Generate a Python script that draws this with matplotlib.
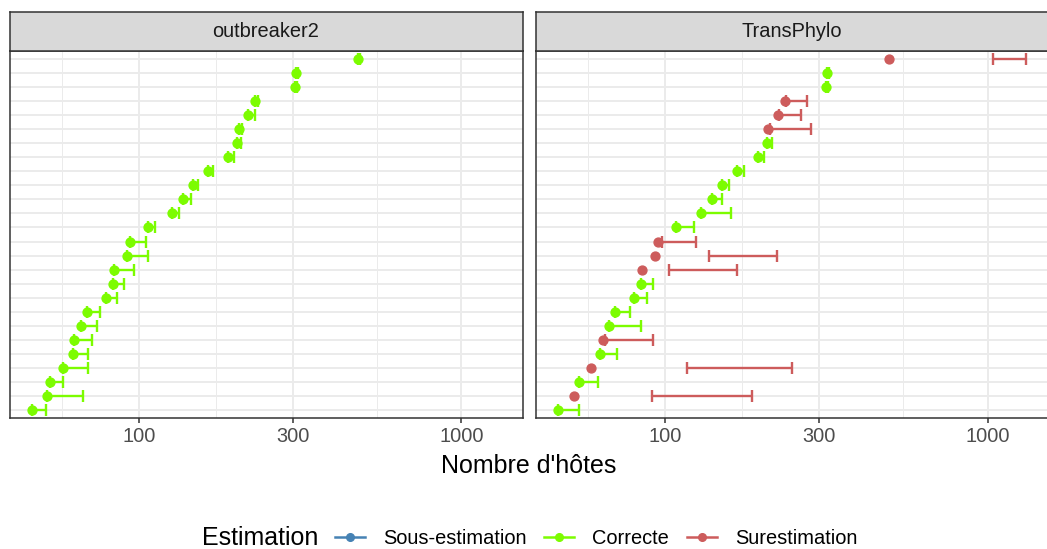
import numpy as np
import matplotlib
matplotlib.use("Agg")
import matplotlib.pyplot as plt
from matplotlib.lines import Line2D

plt.rcParams["font.family"] = ["Liberation Sans", "DejaVu Sans"]

# rows listed from top to bottom
o2_point = [478, 307, 304, 229, 218, 204, 201, 189, 164, 147, 137, 127, 107,
            94, 92, 84, 83, 79, 69, 66, 63, 62.5, 58, 53, 52, 46.6]
o2_low = [478, 307, 304, 229, 218, 204, 201, 189, 164, 147, 137, 127, 107,
          94, 92, 84, 83, 79, 69, 66, 63, 62.5, 58, 53, 52, 46.6]
o2_high = [484, 311, 309, 234, 229, 209, 207, 197, 170, 153, 145, 133, 112.5,
           105, 107, 96.5, 90, 85.5, 76, 74, 71.5, 69.5, 69.5, 58, 67, 51.5]
o2_class = ["Correcte"] * 26

tp_point = [494, 318, 315, 235, 224, 208, 207, 194, 167, 150, 140, 129, 108,
            95, 93, 85, 84, 80, 70, 67, 64, 63, 59, 54, 52, 46.6]
tp_low = [1039, 318, 315, 237, 226, 212, 207, 194, 167, 150, 140, 129, 108,
          98, 137, 103, 84, 80, 70, 67, 65, 63, 117, 54, 91, 46.6]
tp_high = [1314, 322, 320, 275, 264, 284, 215, 203, 176, 158, 150, 160, 123,
           125, 222, 167, 92, 88, 78, 84, 92, 71, 247, 62, 186, 54]
tp_class = ["Surestimation", "Correcte", "Correcte", "Surestimation",
            "Surestimation", "Surestimation", "Correcte", "Correcte",
            "Correcte", "Correcte", "Correcte", "Correcte", "Correcte",
            "Surestimation", "Surestimation", "Surestimation", "Correcte",
            "Correcte", "Correcte", "Correcte", "Surestimation", "Correcte",
            "Surestimation", "Correcte", "Surestimation", "Correcte"]

panels = ["outbreaker2", "TransPhylo"]
classes = ["Sous-estimation", "Correcte", "Surestimation"]
colors = {"Sous-estimation": "#4682B4", "Correcte": "#7CFC00",
          "Surestimation": "#CD5C5C"}
x_breaks = [100, 300, 1000]
x_minor = [57.7, 173.2, 547.7]

W, H = 1047, 549
fig = plt.figure(figsize=(W / 100, H / 100), dpi=100)


def draw_panel(left_px, name, point, low, high, cls):
    ax = fig.add_axes([left_px / W, 1 - 418 / H, 513 / W, 367 / H])
    n = len(point)
    rows = np.arange(1, n + 1)
    point = np.array(point, dtype=float)
    low = np.array(low, dtype=float)
    high = np.array(high, dtype=float)
    cls = np.array(cls)

    for c in classes:
        m = cls == c
        if not m.any():
            continue
        ax.plot(point[m], rows[m], "o", color=colors[c], markersize=6.4,
                zorder=3)
        ax.errorbar(low[m], rows[m], xerr=[np.zeros(m.sum()), high[m] - low[m]],
                    fmt="none", ecolor=colors[c], elinewidth=1.7,
                    capsize=4.3, capthick=1.7, zorder=4)

    ax.set_xscale("log")
    ax.set_xlim(39.7, 1546)
    ax.set_ylim(n + 0.6, 0.4)
    ax.set_xticks(x_breaks)
    ax.set_xticklabels([str(b) for b in x_breaks])
    ax.set_xticks(x_minor, minor=True)
    ax.set_yticks(rows)
    ax.set_yticklabels([])
    ax.tick_params(axis="y", length=0)
    ax.tick_params(axis="x", which="major", length=3.5, width=1.1,
                   color="#333333", labelsize=14.4, labelcolor="#4D4D4D", pad=3)
    ax.tick_params(axis="x", which="minor", length=0)
    ax.grid(True, which="major", color="#EBEBEB", linewidth=1.4)
    ax.grid(True, which="minor", axis="x", color="#EBEBEB", linewidth=0.7)
    ax.set_axisbelow(True)
    for s in ax.spines.values():
        s.set_color("#333333")
        s.set_linewidth(1.1)

    strip = fig.add_axes([left_px / W, 1 - 51 / H, 513 / W, 39 / H])
    strip.set_facecolor("#D9D9D9")
    strip.set_xticks([])
    strip.set_yticks([])
    for s in strip.spines.values():
        s.set_color("#333333")
        s.set_linewidth(1.1)
    strip.text(0.5, 0.5, name, ha="center", va="center", fontsize=14.4,
               color="#1A1A1A", transform=strip.transAxes)
    return ax


draw_panel(9.5, panels[0], o2_point, o2_low, o2_high, o2_class)
draw_panel(535.7, panels[1], tp_point, tp_low, tp_high, tp_class)

fig.text(529 / W, 1 - 466 / H, "Nombre d'hôtes", ha="center", va="center",
         fontsize=18, color="black")

handles = [Line2D([0], [0], color=colors[c], marker="o", markersize=5.5,
                  linewidth=1.8) for c in classes]
fig.legend(handles, classes, loc="center", ncol=3, frameon=False,
           bbox_to_anchor=(596 / W, 1 - 538 / H), fontsize=14.4,
           handlelength=1.5, handletextpad=0.9, columnspacing=0.9,
           borderaxespad=0, borderpad=0)
fig.text(202 / W, 1 - 538 / H, "Estimation", ha="left", va="center",
         fontsize=18, color="black")

fig.savefig("out.png", dpi=100)
